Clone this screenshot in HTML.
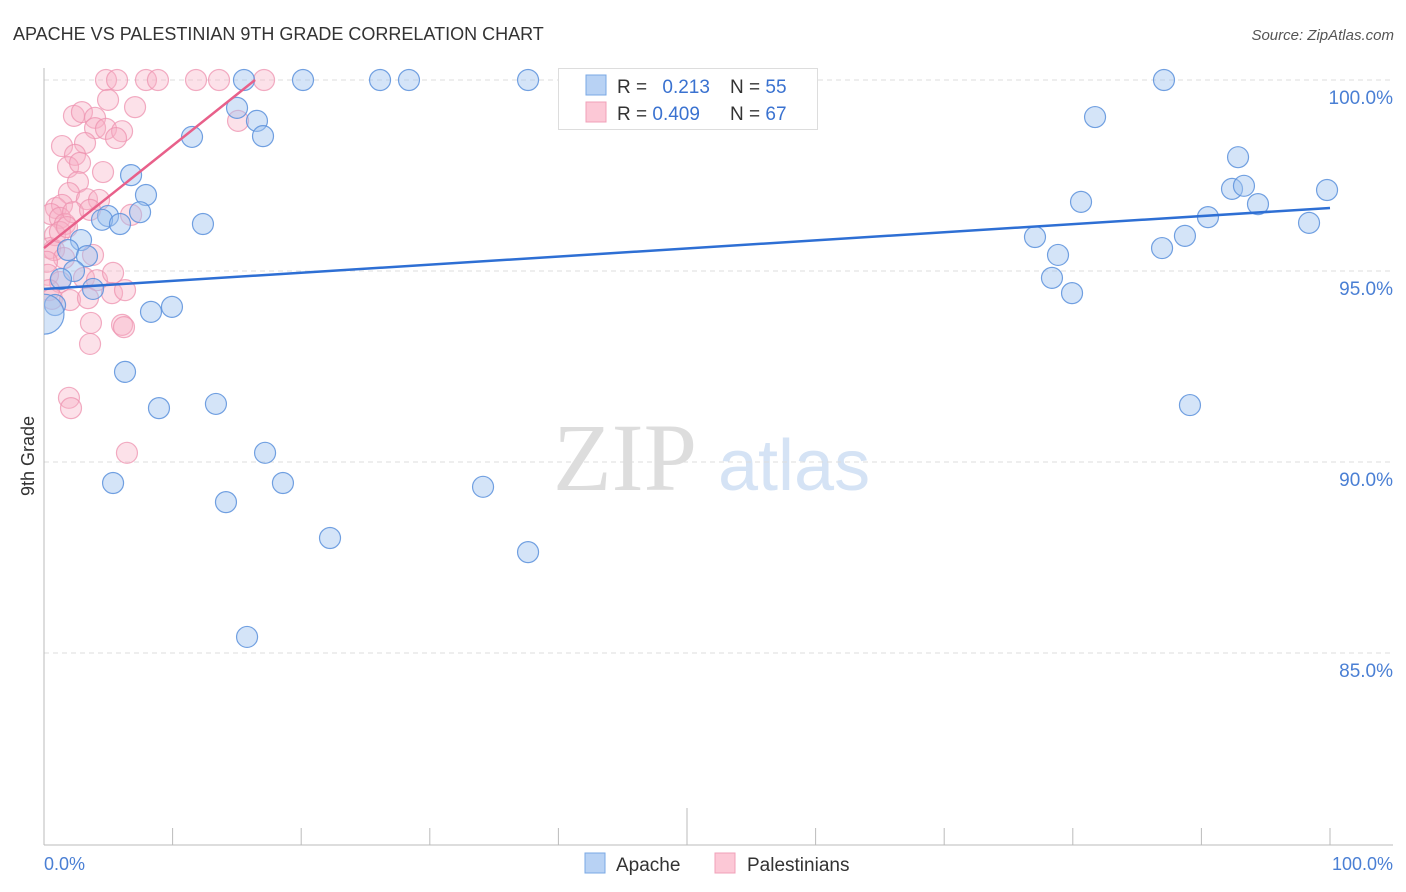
<!DOCTYPE html>
<html><head><meta charset="utf-8"><style>
body{margin:0;background:#fff;font-family:"Liberation Sans",sans-serif;}
svg{display:block}
</style></head><body>
<svg id="c" width="1406" height="892">
<defs><clipPath id="pc"><rect x="44" y="60" width="1360" height="785"/></clipPath></defs>
<text x="13" y="40" font-size="18" fill="#333">APACHE VS PALESTINIAN 9TH GRADE CORRELATION CHART</text>
<text x="1394" y="40" font-size="15" fill="#555" text-anchor="end" font-style="italic">Source: ZipAtlas.com</text>
<g>
<text x="553" y="490" font-family="Liberation Serif,serif" font-size="96" fill="#ddd">ZIP</text>
<text x="718" y="490" font-size="72" fill="#d5e3f5">atlas</text>
</g>
<g id="grid"></g>
<line x1="44" y1="68" x2="44" y2="845" stroke="#bbb"/>
<line x1="44" y1="845" x2="1393" y2="845" stroke="#bbb"/>
<g id="xt"></g>
<text transform="translate(34,456) rotate(-90)" font-size="18" fill="#333" text-anchor="middle">9th Grade</text>
<text x="44" y="870" font-size="18" fill="#4a7fd4">0.0%</text>
<text x="1393" y="870" font-size="18" fill="#4a7fd4" text-anchor="end">100.0%</text>
<g id="pts" clip-path="url(#pc)"></g>
<g id="lines"></g>
<g>
<rect x="558.5" y="68.5" width="259" height="61" fill="#fff" stroke="#ddd"/>
<rect x="586" y="75" width="20" height="20" fill="#b8d2f4" stroke="#7aa8e4"/>
<rect x="586" y="102" width="20" height="20" fill="#fcc8d6" stroke="#f0a0b8"/>
<text x="617" y="93" font-size="19" fill="#333">R = <tspan fill="#3a72d0" dx="10">0.213</tspan></text>
<text x="730" y="93" font-size="19" fill="#333">N = <tspan fill="#3a72d0">55</tspan></text>
<text x="617" y="120" font-size="19" fill="#333">R = <tspan fill="#3a72d0">0.409</tspan></text>
<text x="730" y="120" font-size="19" fill="#333">N = <tspan fill="#3a72d0">67</tspan></text>
</g>
<g>
<rect x="585" y="853" width="20" height="20" fill="#b8d2f4" stroke="#7aa8e4"/>
<text x="616" y="871" font-size="19" fill="#333">Apache</text>
<rect x="715" y="853" width="20" height="20" fill="#fcc8d6" stroke="#f0a0b8"/>
<text x="747" y="871" font-size="19" fill="#333">Palestinians</text>
</g>
</svg>
<script>
const yTicks=[100,95,90,85];
const yTickLabels=["100.0%","95.0%","90.0%","85.0%"];
const blueX=[15.55,20.14,26.13,28.38,37.64,42.92,87.09,15.01,16.56,17.03,11.51,81.73,92.85,6.77,7.93,7.47,4.98,4.51,5.91,12.36,80.64,92.38,93.31,94.40,99.77,90.51,98.37,77.06,88.72,86.94,78.85,2.88,1.87,3.34,2.33,1.32,78.38,79.94,3.81,0.86,8.32,9.95,6.30,8.94,13.37,89.11,17.19,5.37,18.58,14.15,34.14,22.24,37.64,15.79,0];
const blueY=[100,100,100,100,100,100,100,99.27,98.93,98.53,98.51,99.03,97.98,97.51,96.99,96.54,96.44,96.34,96.23,96.23,96.81,97.15,97.23,96.75,97.12,96.41,96.26,95.89,95.92,95.60,95.42,95.81,95.55,95.39,95.0,94.79,94.82,94.42,94.53,94.11,93.93,94.06,92.36,91.41,91.52,91.49,90.24,89.45,89.45,88.95,89.35,88.01,87.64,85.42,93.87];
const pinkX=[4.82,5.68,7.93,8.86,11.82,13.61,17.11,4.98,7.08,2.33,2.95,3.97,3.97,4.82,6.07,5.60,1.40,3.19,2.41,1.87,2.80,4.59,2.64,1.94,3.34,0.93,1.40,4.28,0.54,1.24,1.63,2.26,3.58,6.77,0.86,0.47,0.78,1.24,1.79,1.56,3.81,0.23,0.31,1.24,3.11,4.12,5.37,0.39,0.62,2.02,3.42,5.29,6.30,3.65,6.07,6.22,3.58,1.94,2.10,6.45,15.09];
const pinkY=[100,100,100,100,100,100,100,99.48,99.29,99.06,99.16,99.01,98.74,98.72,98.66,98.48,98.27,98.35,98.04,97.72,97.83,97.59,97.33,97.04,96.88,96.65,96.73,96.86,96.49,96.39,96.23,96.54,96.60,96.47,95.94,95.60,95.55,96.02,96.15,95.34,95.42,95.24,94.90,94.71,94.82,94.76,94.95,94.50,94.27,94.24,94.29,94.42,94.50,93.64,93.59,93.53,93.09,91.68,91.41,90.24,98.93];
const blueLine=[94.53,96.65];
const pinkLine=[95.60,100,16.41];
const NS="http://www.w3.org/2000/svg";
const sx=v=>44+v*12.86, sy=v=>80+(100-v)*38.2;
function mk(tag,attrs,parent){const e=document.createElementNS(NS,tag);for(const k in attrs)e.setAttribute(k,attrs[k]);document.getElementById(parent).appendChild(e);return e;}
yTicks.forEach((t,i)=>{
 const l=mk('line',{x1:44,x2:1393,y1:sy(t),y2:sy(t),stroke:'#ddd','stroke-dasharray':'5,4'},'grid');
 
 
 const tx=mk('text',{x:1393,y:sy(t)+24,'font-size':19,fill:'#4a7fd4','text-anchor':'end'},'grid');
 tx.textContent=yTickLabels[i];
 
 
});
for(let i=1;i<=10;i++){
 const x=44+i*128.6;
 const l=mk('line',{x1:x,x2:x,y1:i==5?808:828,y2:845,stroke:'#bbb'},'xt');
 
 
}
pinkX.forEach((x,i)=>{
 const c=mk('circle',{cx:sx(x),cy:sy(pinkY[i]),r:10.5,fill:'rgba(248,175,198,0.38)',stroke:'rgba(238,145,175,0.75)','stroke-width':1.2},'pts');
 
 
});
blueX.forEach((x,i)=>{
 const big=i==blueX.length-1;
 const c=mk('circle',{cx:sx(x),cy:sy(blueY[i]),r:big?20:10.5,fill:'rgba(160,196,240,0.45)',stroke:'rgba(90,145,220,0.85)','stroke-width':1.2},'pts');
 
 
});
const bl=mk('line',{x1:sx(0),y1:sy(blueLine[0]),x2:sx(100),y2:sy(blueLine[1]),stroke:'#2e6fd4','stroke-width':2.5},'lines');


const pl=mk('line',{x1:sx(0),y1:sy(pinkLine[0]),x2:sx(pinkLine[2]),y2:sy(pinkLine[1]),stroke:'#e8608a','stroke-width':2.5},'lines');


</script>
</body></html>
